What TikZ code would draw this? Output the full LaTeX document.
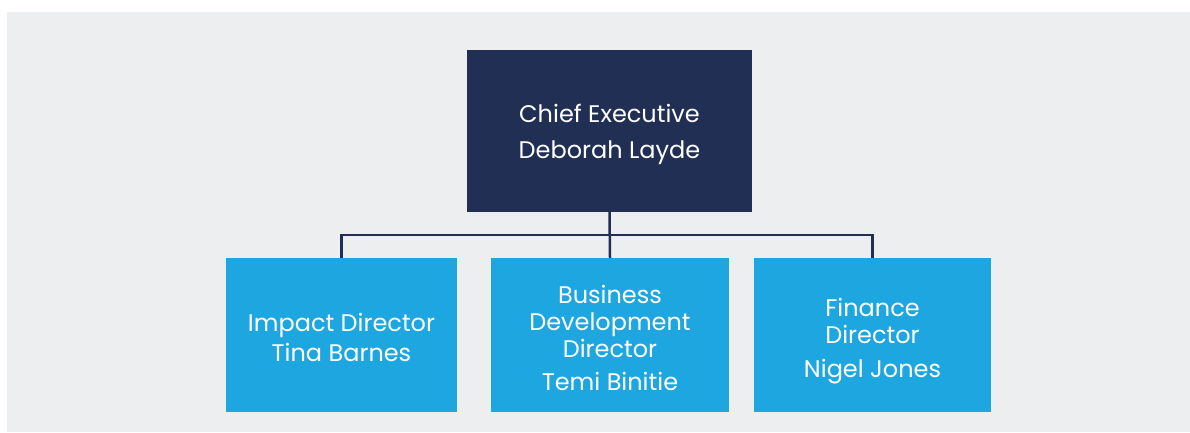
\documentclass[tikz,border=0pt]{standalone}
\usepackage{fontspec}
\setmainfont{Poppins}
\definecolor{navy}{HTML}{212F55}
\definecolor{skyblue}{HTML}{1EA6E0}
\definecolor{paper}{HTML}{EDEEF0}
\newcommand{\headroom}[1]{\rule{0pt}{#1}}
\begin{document}
\begin{tikzpicture}[x=1pt, y=-1pt,
    post/.style={fill=skyblue, text=white, inner sep=0pt, minimum height=154pt,
        align=center, font=\fontsize{24}{27}\selectfont},
    link/.style={draw=navy, line width=2.5pt}]

                    \useasboundingbox (0,0) rectangle (1190,432);
                    \fill[paper] (7,12) rectangle (1190,432);

                    \node[post, fill=navy, minimum width=285pt, minimum height=162pt] (chief) at (609.5,131)
                        {\headroom{26pt}Chief Executive\\[9pt]Deborah Layde};
                    \node[post, minimum width=231pt] (impact) at (341.5,335)
                        {\headroom{24pt}Impact Director\\[3pt]Tina Barnes};
                    \node[post, minimum width=238pt] (business) at (610,335)
                        {\headroom{24pt}Business\\Development\\Director\\[6pt]Temi Binitie};
                    \node[post, minimum width=237pt] (finance) at (872.5,335)
                        {\headroom{31pt}Finance\\Director\\[7pt]Nigel Jones};

                    \draw[link] (chief.south) -- (business.north);
                    \draw[link] (impact.north) -- ++(0,-23) -| (finance.north);
                \end{tikzpicture}
\end{document}
